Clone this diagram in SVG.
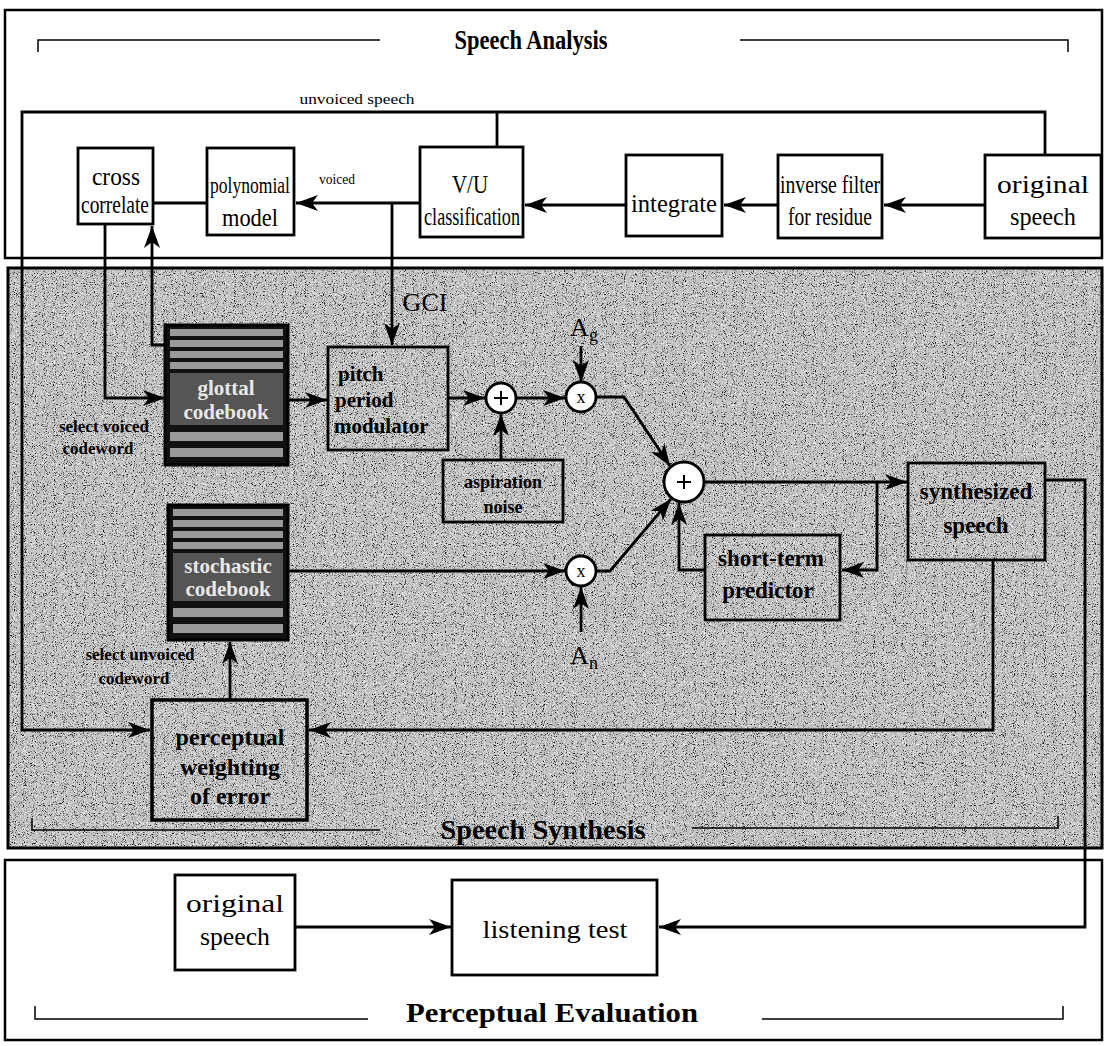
<svg xmlns="http://www.w3.org/2000/svg" width="1105" height="1046" viewBox="0 0 1105 1046">
<defs>
<style>
.panel{fill:#fff;stroke:#000;stroke-width:2.5}
.box{fill:none;stroke:#000;stroke-width:2.8}
.sbox{fill:none;stroke:#000;stroke-width:3.5}
.ln{fill:none;stroke:#000;stroke-width:2.8}
.thin{fill:none;stroke:#000;stroke-width:1.5}
.arr{marker-end:url(#ah)}
.t{font-family:"Liberation Serif",serif;font-size:25px;fill:#000;text-anchor:middle}
.s{font-family:"Liberation Serif",serif;font-size:20px;fill:#000;text-anchor:middle}
.sb{font-family:"Liberation Serif",serif;font-size:21px;font-weight:bold;fill:#000;text-anchor:middle}
.sm{font-family:"Liberation Serif",serif;font-size:15px;fill:#000;text-anchor:middle}
.ttl{font-family:"Liberation Serif",serif;font-size:28px;font-weight:bold;fill:#000;text-anchor:middle}
.cb{font-family:"Liberation Serif",serif;font-size:21px;font-weight:bold;fill:#e8e8e8;text-anchor:middle}
.circ{fill:#fff;stroke:#000;stroke-width:2.8}
.stripe{fill:#9a9a9a}
</style>
<marker id="ah" markerUnits="userSpaceOnUse" markerWidth="24" markerHeight="16" refX="22" refY="8" orient="auto">
<path d="M0,0 L22,8 L0,16 L6,8 z" fill="#000"/>
</marker>
<filter id="noiseB" x="0" y="0" width="100%" height="100%">
<feTurbulence type="fractalNoise" baseFrequency="1.1" numOctaves="1" seed="4" result="t"/>
<feColorMatrix in="t" type="matrix" values="0 0 0 0 0  0 0 0 0 0  0 0 0 0 0  5 0 0 0 -2.75"/>
<feComposite operator="in" in2="SourceGraphic"/>
</filter>
<filter id="noiseW" x="0" y="0" width="100%" height="100%">
<feTurbulence type="fractalNoise" baseFrequency="1.1" numOctaves="1" seed="9" result="t"/>
<feColorMatrix in="t" type="matrix" values="0 0 0 0 1  0 0 0 0 1  0 0 0 0 1  -5 0 0 0 2.3"/>
<feComposite operator="in" in2="SourceGraphic"/>
</filter>
</defs>

<!-- panels -->
<g id="panel-analysis">
<rect class="panel" x="5" y="10" width="1097" height="248"/>
<text class="ttl" x="531" y="49" textLength="153" lengthAdjust="spacingAndGlyphs">Speech Analysis</text>
<polyline class="thin" points="38,52 38,40 380,40"/>
<polyline class="thin" points="740,40 1068,40 1068,52"/>
</g>
<g id="panel-synthesis">
<rect x="8" y="268" width="1094" height="580" fill="#c2c2c2"/>
<rect x="9" y="269" width="1092" height="578" fill="#000" filter="url(#noiseB)"/>
<rect x="9" y="269" width="1092" height="578" fill="#fff" filter="url(#noiseW)"/>
<rect x="8" y="268" width="1094" height="580" fill="none" stroke="#000" stroke-width="3"/>
<text class="ttl" x="543" y="839" textLength="205" lengthAdjust="spacingAndGlyphs">Speech Synthesis</text>
<polyline class="thin" points="32,818 32,830 380,830"/>
<polyline class="thin" points="692,828 1058,828 1058,816"/>
</g>
<g id="panel-evaluation">
<rect class="panel" x="5" y="860" width="1097" height="180"/>
<text class="ttl" x="552" y="1022" textLength="292" lengthAdjust="spacingAndGlyphs">Perceptual Evaluation</text>
<polyline class="thin" points="35,1006 35,1019 368,1019"/>
<polyline class="thin" points="762,1019 1063,1019 1063,1006"/>
</g>

<!-- connectors -->
<g id="connectors">
<polyline class="ln" points="1045,155 1045,112 22,112 22,730 150,730" marker-end="url(#ah)"/>
<line class="ln" x1="497" y1="112" x2="497" y2="147"/>
<line class="ln arr" x1="985" y1="205" x2="884" y2="205"/>
<line class="ln arr" x1="778" y1="205" x2="724" y2="205"/>
<line class="ln arr" x1="626" y1="205" x2="525" y2="205"/>
<line class="ln arr" x1="420" y1="203" x2="296" y2="203"/>
<line class="ln" x1="153" y1="203" x2="207" y2="203"/>
<polyline class="ln arr" points="392,203 392,345"/>
<polyline class="ln arr" points="105,224 105,398 165,398"/>
<polyline class="ln arr" points="165,345 152,345 152,226"/>
<line class="ln arr" x1="288" y1="400" x2="327" y2="400"/>
<line class="ln arr" x1="448" y1="398" x2="485" y2="398"/>
<line class="ln arr" x1="501" y1="460" x2="501" y2="414"/>
<line class="ln arr" x1="517" y1="398" x2="565" y2="398"/>
<line class="ln arr" x1="581" y1="346" x2="581" y2="382"/>
<polyline class="ln arr" points="596,397 624,397 670,466"/>
<line class="ln arr" x1="288" y1="571" x2="565" y2="571"/>
<line class="ln arr" x1="581" y1="632" x2="581" y2="587"/>
<polyline class="ln arr" points="596,571 610,571 671,499"/>
<polyline class="ln arr" points="705,570 679,570 679,503"/>
<line class="ln arr" x1="704" y1="482" x2="907" y2="482"/>
<polyline class="ln arr" points="877,482 877,570 842,570"/>
<polyline class="ln arr" points="993,560 993,730 309,730"/>
<line class="ln arr" x1="230" y1="700" x2="230" y2="642"/>
<polyline class="ln arr" points="1045,480 1085,480 1085,927 659,927"/>
<line class="ln arr" x1="295" y1="927" x2="451" y2="927"/>
</g>

<!-- analysis nodes -->
<g id="cross-correlate">
<rect class="box" x="78" y="148" width="75" height="76"/>
<text class="t" x="116" y="185" textLength="48" lengthAdjust="spacingAndGlyphs">cross</text>
<text class="t" x="115" y="213" textLength="68" lengthAdjust="spacingAndGlyphs">correlate</text>
</g>
<g id="polynomial-model">
<rect class="box" x="207" y="148" width="87" height="87"/>
<text class="t" x="250" y="193" style="font-size:23px" textLength="80" lengthAdjust="spacingAndGlyphs">polynomial</text>
<text class="t" x="250" y="226" textLength="56" lengthAdjust="spacingAndGlyphs">model</text>
</g>
<text class="sm" x="337" y="184" textLength="36" lengthAdjust="spacingAndGlyphs">voiced</text>
<text class="sm" x="357" y="104" textLength="115" lengthAdjust="spacingAndGlyphs">unvoiced speech</text>
<g id="vu-classification">
<rect class="box" x="420" y="147" width="103" height="90"/>
<text class="t" x="470" y="193" textLength="36" lengthAdjust="spacingAndGlyphs">V/U</text>
<text class="t" x="472" y="225" textLength="96" lengthAdjust="spacingAndGlyphs">classification</text>
</g>
<g id="integrate">
<rect class="box" x="626" y="155" width="96" height="81"/>
<text class="t" x="674" y="212" textLength="86" lengthAdjust="spacingAndGlyphs">integrate</text>
</g>
<g id="inverse-filter">
<rect class="box" x="778" y="155" width="104" height="83"/>
<text class="t" x="830" y="193" textLength="100" lengthAdjust="spacingAndGlyphs">inverse filter</text>
<text class="t" x="830" y="225" textLength="84" lengthAdjust="spacingAndGlyphs">for residue</text>
</g>
<g id="original-speech-a">
<rect class="box" x="985" y="155" width="116" height="83"/>
<text class="t" x="1043" y="193" textLength="92" lengthAdjust="spacingAndGlyphs">original</text>
<text class="t" x="1043" y="225" textLength="66" lengthAdjust="spacingAndGlyphs">speech</text>
</g>

<!-- synthesis nodes -->
<text class="s" x="425" y="311" style="font-size:26px">GCI</text>
<g id="glottal-codebook">
<rect x="165" y="325" width="123" height="140" fill="#111" stroke="#000" stroke-width="3"/>
<rect class="stripe" x="170" y="329" width="113" height="7"/>
<rect class="stripe" x="170" y="340" width="113" height="7"/>
<rect class="stripe" x="170" y="351" width="113" height="7"/>
<rect class="stripe" x="170" y="362" width="113" height="7"/>
<rect x="170" y="373" width="113" height="52" fill="#555"/>
<rect class="stripe" x="170" y="432" width="113" height="9"/>
<rect class="stripe" x="170" y="448" width="113" height="9"/>
<text class="cb" x="226" y="395">glottal</text>
<text class="cb" x="226" y="419">codebook</text>
</g>
<text class="sb" x="104" y="432" style="font-size:17px">select voiced</text>
<text class="sb" x="98" y="454" style="font-size:17px">codeword</text>
<g id="pitch-period-modulator">
<rect class="box" x="328" y="347" width="120" height="103"/>
<text class="sb" x="338" y="381" style="text-anchor:start;font-size:21px">pitch</text>
<text class="sb" x="335" y="407" style="text-anchor:start;font-size:21px">period</text>
<text class="sb" x="334" y="433" style="text-anchor:start;font-size:21px">modulator</text>
</g>
<g id="sum1">
<circle class="circ" cx="501" cy="398" r="15"/>
<path d="M494,398 H508 M501,391 V405" stroke="#000" stroke-width="2"/>
</g>
<g id="aspiration-noise">
<rect class="box" x="443" y="460" width="120" height="62"/>
<text class="sb" x="503" y="488" style="font-size:18px">aspiration</text>
<text class="sb" x="503" y="513" style="font-size:18px">noise</text>
</g>
<g id="mult-g">
<circle class="circ" cx="581" cy="397" r="15"/>
<text class="s" x="581" y="403" style="font-size:18px">x</text>
</g>
<text class="s" x="584" y="336" style="font-size:26px">A<tspan style="font-size:18px" dy="5">g</tspan></text>
<g id="stochastic-codebook">
<rect x="168" y="505" width="120" height="135" fill="#111" stroke="#000" stroke-width="3"/>
<rect class="stripe" x="173" y="509" width="110" height="7"/>
<rect class="stripe" x="173" y="520" width="110" height="7"/>
<rect class="stripe" x="173" y="531" width="110" height="7"/>
<rect class="stripe" x="173" y="542" width="110" height="7"/>
<rect x="173" y="553" width="110" height="48" fill="#555"/>
<rect class="stripe" x="173" y="608" width="110" height="9"/>
<rect class="stripe" x="173" y="624" width="110" height="9"/>
<text class="cb" x="228" y="573">stochastic</text>
<text class="cb" x="228" y="596">codebook</text>
</g>
<g id="mult-n">
<circle class="circ" cx="581" cy="571" r="15"/>
<text class="s" x="581" y="577" style="font-size:18px">x</text>
</g>
<text class="s" x="584" y="664" style="font-size:26px">A<tspan style="font-size:18px" dy="5">n</tspan></text>
<g id="sum2">
<circle class="circ" cx="684" cy="482" r="20"/>
<path d="M677,482 H691 M684,475 V489" stroke="#000" stroke-width="2"/>
</g>
<g id="short-term-predictor">
<rect class="box" x="705" y="535" width="135" height="85"/>
<text class="sb" x="771" y="566" style="font-size:23px">short-term</text>
<text class="sb" x="768" y="598" style="font-size:23px">predictor</text>
</g>
<g id="synthesized-speech">
<rect class="box" x="908" y="463" width="137" height="97"/>
<text class="sb" x="976" y="499" style="font-size:23px">synthesized</text>
<text class="sb" x="976" y="533" style="font-size:23px">speech</text>
</g>
<text class="sb" x="140" y="660" style="font-size:17px">select unvoiced</text>
<text class="sb" x="134" y="684" style="font-size:17px">codeword</text>
<g id="perceptual-weighting">
<rect class="sbox" x="152" y="700" width="155" height="120"/>
<text class="sb" x="230" y="745" style="font-size:24px">perceptual</text>
<text class="sb" x="230" y="775" style="font-size:24px">weighting</text>
<text class="sb" x="230" y="804" style="font-size:24px">of error</text>
</g>

<!-- evaluation nodes -->
<g id="original-speech-e">
<rect class="box" x="175" y="875" width="120" height="95"/>
<text class="t" x="235" y="912" textLength="98" lengthAdjust="spacingAndGlyphs">original</text>
<text class="t" x="235" y="945" textLength="70" lengthAdjust="spacingAndGlyphs">speech</text>
</g>
<g id="listening-test">
<rect class="box" x="452" y="880" width="205" height="95"/>
<text class="t" x="555" y="938" textLength="145" lengthAdjust="spacingAndGlyphs">listening test</text>
</g>
</svg>
